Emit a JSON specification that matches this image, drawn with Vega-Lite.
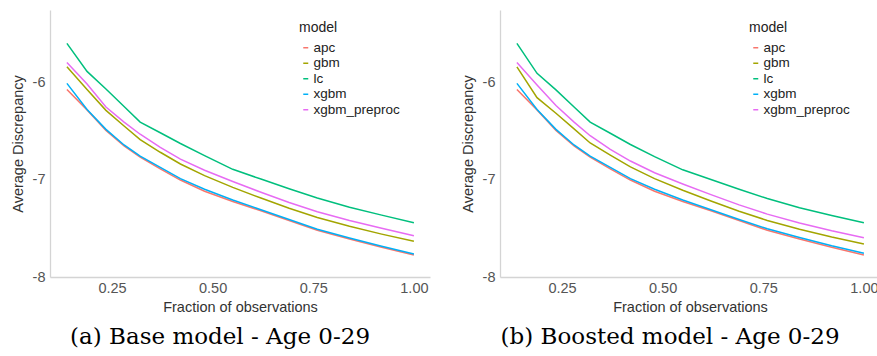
{
  "$schema": "https://vega.github.io/schema/vega-lite/v6.json",
  "padding": {"left": 10, "top": 10, "right": 0, "bottom": 0},
  "background": "white",
  "datasets": {
    "curves": [
      {"p":"a","m":"apc","x":0.138,"y":-6.075},{"p":"a","m":"apc","x":0.188,"y":-6.285},{"p":"a","m":"apc","x":0.235,"y":-6.495},{"p":"a","m":"apc","x":0.28,"y":-6.655},{"p":"a","m":"apc","x":0.32,"y":-6.77},{"p":"a","m":"apc","x":0.37,"y":-6.89},{"p":"a","m":"apc","x":0.42,"y":-7.005},{"p":"a","m":"apc","x":0.48,"y":-7.12},{"p":"a","m":"apc","x":0.55,"y":-7.225},{"p":"a","m":"apc","x":0.62,"y":-7.32},{"p":"a","m":"apc","x":0.69,"y":-7.42},{"p":"a","m":"apc","x":0.76,"y":-7.52},{"p":"a","m":"apc","x":0.84,"y":-7.61},{"p":"a","m":"apc","x":0.92,"y":-7.695},{"p":"a","m":"apc","x":1.0,"y":-7.774},
      {"p":"a","m":"gbm","x":0.138,"y":-5.843},{"p":"a","m":"gbm","x":0.188,"y":-6.075},{"p":"a","m":"gbm","x":0.235,"y":-6.29},{"p":"a","m":"gbm","x":0.28,"y":-6.45},{"p":"a","m":"gbm","x":0.32,"y":-6.59},{"p":"a","m":"gbm","x":0.37,"y":-6.72},{"p":"a","m":"gbm","x":0.42,"y":-6.84},{"p":"a","m":"gbm","x":0.48,"y":-6.96},{"p":"a","m":"gbm","x":0.55,"y":-7.08},{"p":"a","m":"gbm","x":0.62,"y":-7.19},{"p":"a","m":"gbm","x":0.69,"y":-7.295},{"p":"a","m":"gbm","x":0.76,"y":-7.39},{"p":"a","m":"gbm","x":0.84,"y":-7.48},{"p":"a","m":"gbm","x":0.92,"y":-7.56},{"p":"a","m":"gbm","x":1.0,"y":-7.634},
      {"p":"a","m":"lc","x":0.138,"y":-5.603},{"p":"a","m":"lc","x":0.188,"y":-5.89},{"p":"a","m":"lc","x":0.235,"y":-6.07},{"p":"a","m":"lc","x":0.28,"y":-6.25},{"p":"a","m":"lc","x":0.32,"y":-6.41},{"p":"a","m":"lc","x":0.37,"y":-6.52},{"p":"a","m":"lc","x":0.42,"y":-6.63},{"p":"a","m":"lc","x":0.48,"y":-6.755},{"p":"a","m":"lc","x":0.55,"y":-6.895},{"p":"a","m":"lc","x":0.62,"y":-6.995},{"p":"a","m":"lc","x":0.69,"y":-7.095},{"p":"a","m":"lc","x":0.76,"y":-7.19},{"p":"a","m":"lc","x":0.84,"y":-7.285},{"p":"a","m":"lc","x":0.92,"y":-7.365},{"p":"a","m":"lc","x":1.0,"y":-7.443},
      {"p":"a","m":"xgbm","x":0.138,"y":-6.013},{"p":"a","m":"xgbm","x":0.188,"y":-6.28},{"p":"a","m":"xgbm","x":0.235,"y":-6.485},{"p":"a","m":"xgbm","x":0.28,"y":-6.645},{"p":"a","m":"xgbm","x":0.32,"y":-6.76},{"p":"a","m":"xgbm","x":0.37,"y":-6.875},{"p":"a","m":"xgbm","x":0.42,"y":-6.99},{"p":"a","m":"xgbm","x":0.48,"y":-7.1},{"p":"a","m":"xgbm","x":0.55,"y":-7.21},{"p":"a","m":"xgbm","x":0.62,"y":-7.31},{"p":"a","m":"xgbm","x":0.69,"y":-7.41},{"p":"a","m":"xgbm","x":0.76,"y":-7.51},{"p":"a","m":"xgbm","x":0.84,"y":-7.6},{"p":"a","m":"xgbm","x":0.92,"y":-7.685},{"p":"a","m":"xgbm","x":1.0,"y":-7.764},
      {"p":"a","m":"xgbm_preproc","x":0.138,"y":-5.798},{"p":"a","m":"xgbm_preproc","x":0.188,"y":-6.02},{"p":"a","m":"xgbm_preproc","x":0.235,"y":-6.255},{"p":"a","m":"xgbm_preproc","x":0.28,"y":-6.41},{"p":"a","m":"xgbm_preproc","x":0.32,"y":-6.535},{"p":"a","m":"xgbm_preproc","x":0.37,"y":-6.67},{"p":"a","m":"xgbm_preproc","x":0.42,"y":-6.79},{"p":"a","m":"xgbm_preproc","x":0.48,"y":-6.905},{"p":"a","m":"xgbm_preproc","x":0.55,"y":-7.02},{"p":"a","m":"xgbm_preproc","x":0.62,"y":-7.13},{"p":"a","m":"xgbm_preproc","x":0.69,"y":-7.235},{"p":"a","m":"xgbm_preproc","x":0.76,"y":-7.33},{"p":"a","m":"xgbm_preproc","x":0.84,"y":-7.42},{"p":"a","m":"xgbm_preproc","x":0.92,"y":-7.5},{"p":"a","m":"xgbm_preproc","x":1.0,"y":-7.576},
      {"p":"b","m":"apc","x":0.138,"y":-6.075},{"p":"b","m":"apc","x":0.188,"y":-6.285},{"p":"b","m":"apc","x":0.235,"y":-6.495},{"p":"b","m":"apc","x":0.28,"y":-6.655},{"p":"b","m":"apc","x":0.32,"y":-6.77},{"p":"b","m":"apc","x":0.37,"y":-6.89},{"p":"b","m":"apc","x":0.42,"y":-7.005},{"p":"b","m":"apc","x":0.48,"y":-7.12},{"p":"b","m":"apc","x":0.55,"y":-7.225},{"p":"b","m":"apc","x":0.62,"y":-7.32},{"p":"b","m":"apc","x":0.69,"y":-7.42},{"p":"b","m":"apc","x":0.76,"y":-7.52},{"p":"b","m":"apc","x":0.84,"y":-7.61},{"p":"b","m":"apc","x":0.92,"y":-7.695},{"p":"b","m":"apc","x":1.0,"y":-7.774},
      {"p":"b","m":"gbm","x":0.138,"y":-5.843},{"p":"b","m":"gbm","x":0.188,"y":-6.16},{"p":"b","m":"gbm","x":0.235,"y":-6.32},{"p":"b","m":"gbm","x":0.28,"y":-6.48},{"p":"b","m":"gbm","x":0.32,"y":-6.625},{"p":"b","m":"gbm","x":0.37,"y":-6.75},{"p":"b","m":"gbm","x":0.42,"y":-6.87},{"p":"b","m":"gbm","x":0.48,"y":-6.99},{"p":"b","m":"gbm","x":0.55,"y":-7.11},{"p":"b","m":"gbm","x":0.62,"y":-7.22},{"p":"b","m":"gbm","x":0.69,"y":-7.325},{"p":"b","m":"gbm","x":0.76,"y":-7.42},{"p":"b","m":"gbm","x":0.84,"y":-7.51},{"p":"b","m":"gbm","x":0.92,"y":-7.59},{"p":"b","m":"gbm","x":1.0,"y":-7.662},
      {"p":"b","m":"lc","x":0.138,"y":-5.603},{"p":"b","m":"lc","x":0.188,"y":-5.91},{"p":"b","m":"lc","x":0.235,"y":-6.08},{"p":"b","m":"lc","x":0.28,"y":-6.255},{"p":"b","m":"lc","x":0.32,"y":-6.41},{"p":"b","m":"lc","x":0.37,"y":-6.525},{"p":"b","m":"lc","x":0.42,"y":-6.64},{"p":"b","m":"lc","x":0.48,"y":-6.765},{"p":"b","m":"lc","x":0.55,"y":-6.9},{"p":"b","m":"lc","x":0.62,"y":-7.0},{"p":"b","m":"lc","x":0.69,"y":-7.1},{"p":"b","m":"lc","x":0.76,"y":-7.195},{"p":"b","m":"lc","x":0.84,"y":-7.29},{"p":"b","m":"lc","x":0.92,"y":-7.368},{"p":"b","m":"lc","x":1.0,"y":-7.443},
      {"p":"b","m":"xgbm","x":0.138,"y":-6.013},{"p":"b","m":"xgbm","x":0.188,"y":-6.28},{"p":"b","m":"xgbm","x":0.235,"y":-6.485},{"p":"b","m":"xgbm","x":0.28,"y":-6.645},{"p":"b","m":"xgbm","x":0.32,"y":-6.76},{"p":"b","m":"xgbm","x":0.37,"y":-6.875},{"p":"b","m":"xgbm","x":0.42,"y":-6.99},{"p":"b","m":"xgbm","x":0.48,"y":-7.1},{"p":"b","m":"xgbm","x":0.55,"y":-7.21},{"p":"b","m":"xgbm","x":0.62,"y":-7.31},{"p":"b","m":"xgbm","x":0.69,"y":-7.41},{"p":"b","m":"xgbm","x":0.76,"y":-7.505},{"p":"b","m":"xgbm","x":0.84,"y":-7.595},{"p":"b","m":"xgbm","x":0.92,"y":-7.68},{"p":"b","m":"xgbm","x":1.0,"y":-7.757},
      {"p":"b","m":"xgbm_preproc","x":0.138,"y":-5.8},{"p":"b","m":"xgbm_preproc","x":0.188,"y":-6.03},{"p":"b","m":"xgbm_preproc","x":0.235,"y":-6.24},{"p":"b","m":"xgbm_preproc","x":0.28,"y":-6.41},{"p":"b","m":"xgbm_preproc","x":0.32,"y":-6.55},{"p":"b","m":"xgbm_preproc","x":0.37,"y":-6.69},{"p":"b","m":"xgbm_preproc","x":0.42,"y":-6.81},{"p":"b","m":"xgbm_preproc","x":0.48,"y":-6.93},{"p":"b","m":"xgbm_preproc","x":0.55,"y":-7.045},{"p":"b","m":"xgbm_preproc","x":0.62,"y":-7.155},{"p":"b","m":"xgbm_preproc","x":0.69,"y":-7.26},{"p":"b","m":"xgbm_preproc","x":0.76,"y":-7.355},{"p":"b","m":"xgbm_preproc","x":0.84,"y":-7.445},{"p":"b","m":"xgbm_preproc","x":0.92,"y":-7.525},{"p":"b","m":"xgbm_preproc","x":1.0,"y":-7.597}
    ]
  },
  "data": {"name": "curves"},
  "spacing": 30,
  "resolve": {"legend": {"color": "independent"}},
  "hconcat": [
    {
      "width": 380,
      "height": 267,
      "title": {"text": "(a) Base model - Age 0-29", "orient": "bottom", "frame": "bounds", "anchor": "middle", "font": "DejaVu Serif", "fontSize": 23, "fontWeight": "normal", "color": "#000000", "offset": 12},
      "transform": [{"filter": "datum.p == 'a'"}],
      "mark": {"type": "line", "strokeWidth": 1.5},
      "encoding": {
        "x": {"field": "x", "type": "quantitative", "scale": {"domain": [0.096, 1.04], "nice": false, "zero": false}, "axis": {"values": [0.25, 0.5, 0.75, 1.0], "format": ".2f", "title": "Fraction of observations"}},
        "y": {"field": "y", "type": "quantitative", "scale": {"domain": [-8, -5.26], "nice": false, "zero": false}, "axis": {"values": [-8, -7, -6], "labelExpr": "datum.value + ''", "title": "Average Discrepancy"}},
        "color": {"field": "m", "type": "nominal", "scale": {"domain": ["apc", "gbm", "lc", "xgbm", "xgbm_preproc"], "range": ["#F8766D", "#A3A500", "#00BF7D", "#00B0F6", "#E76BF3"]}, "legend": {"title": "model", "orient": "none", "legendX": 249, "legendY": 11}}
      }
    },
    {
      "width": 380,
      "height": 267,
      "title": {"text": "(b) Boosted model - Age 0-29", "orient": "bottom", "frame": "bounds", "anchor": "middle", "font": "DejaVu Serif", "fontSize": 23, "fontWeight": "normal", "color": "#000000", "offset": 12},
      "transform": [{"filter": "datum.p == 'b'"}],
      "mark": {"type": "line", "strokeWidth": 1.5},
      "encoding": {
        "x": {"field": "x", "type": "quantitative", "scale": {"domain": [0.096, 1.04], "nice": false, "zero": false}, "axis": {"values": [0.25, 0.5, 0.75, 1.0], "format": ".2f", "title": "Fraction of observations"}},
        "y": {"field": "y", "type": "quantitative", "scale": {"domain": [-8, -5.26], "nice": false, "zero": false}, "axis": {"values": [-8, -7, -6], "labelExpr": "datum.value + ''", "title": "Average Discrepancy"}},
        "color": {"field": "m", "type": "nominal", "scale": {"domain": ["apc", "gbm", "lc", "xgbm", "xgbm_preproc"], "range": ["#F8766D", "#A3A500", "#00BF7D", "#00B0F6", "#E76BF3"]}, "legend": {"title": "model", "orient": "none", "legendX": 249, "legendY": 11}}
      }
    }
  ],
  "config": {
    "font": "Liberation Sans",
    "view": {"stroke": null},
    "axis": {"grid": false, "ticks": false, "domainColor": "#d4d4d4", "domainWidth": 1.3, "labelColor": "#555555", "labelFontSize": 14.5, "titleFontSize": 14.5, "titleFontWeight": "normal", "titleColor": "#333333", "labelPadding": 4, "titlePadding": 6},
    "axisY": {"labelPadding": 5, "titlePadding": 7},
    "legend": {"titleFontSize": 14, "titleFontWeight": "normal", "titleColor": "#222222", "labelFontSize": 13.5, "labelColor": "#222222", "symbolType": "stroke", "symbolStrokeWidth": 1.5, "symbolSize": 25, "rowPadding": 0.5, "labelOffset": 1, "titlePadding": 6, "padding": 0}
  }
}
